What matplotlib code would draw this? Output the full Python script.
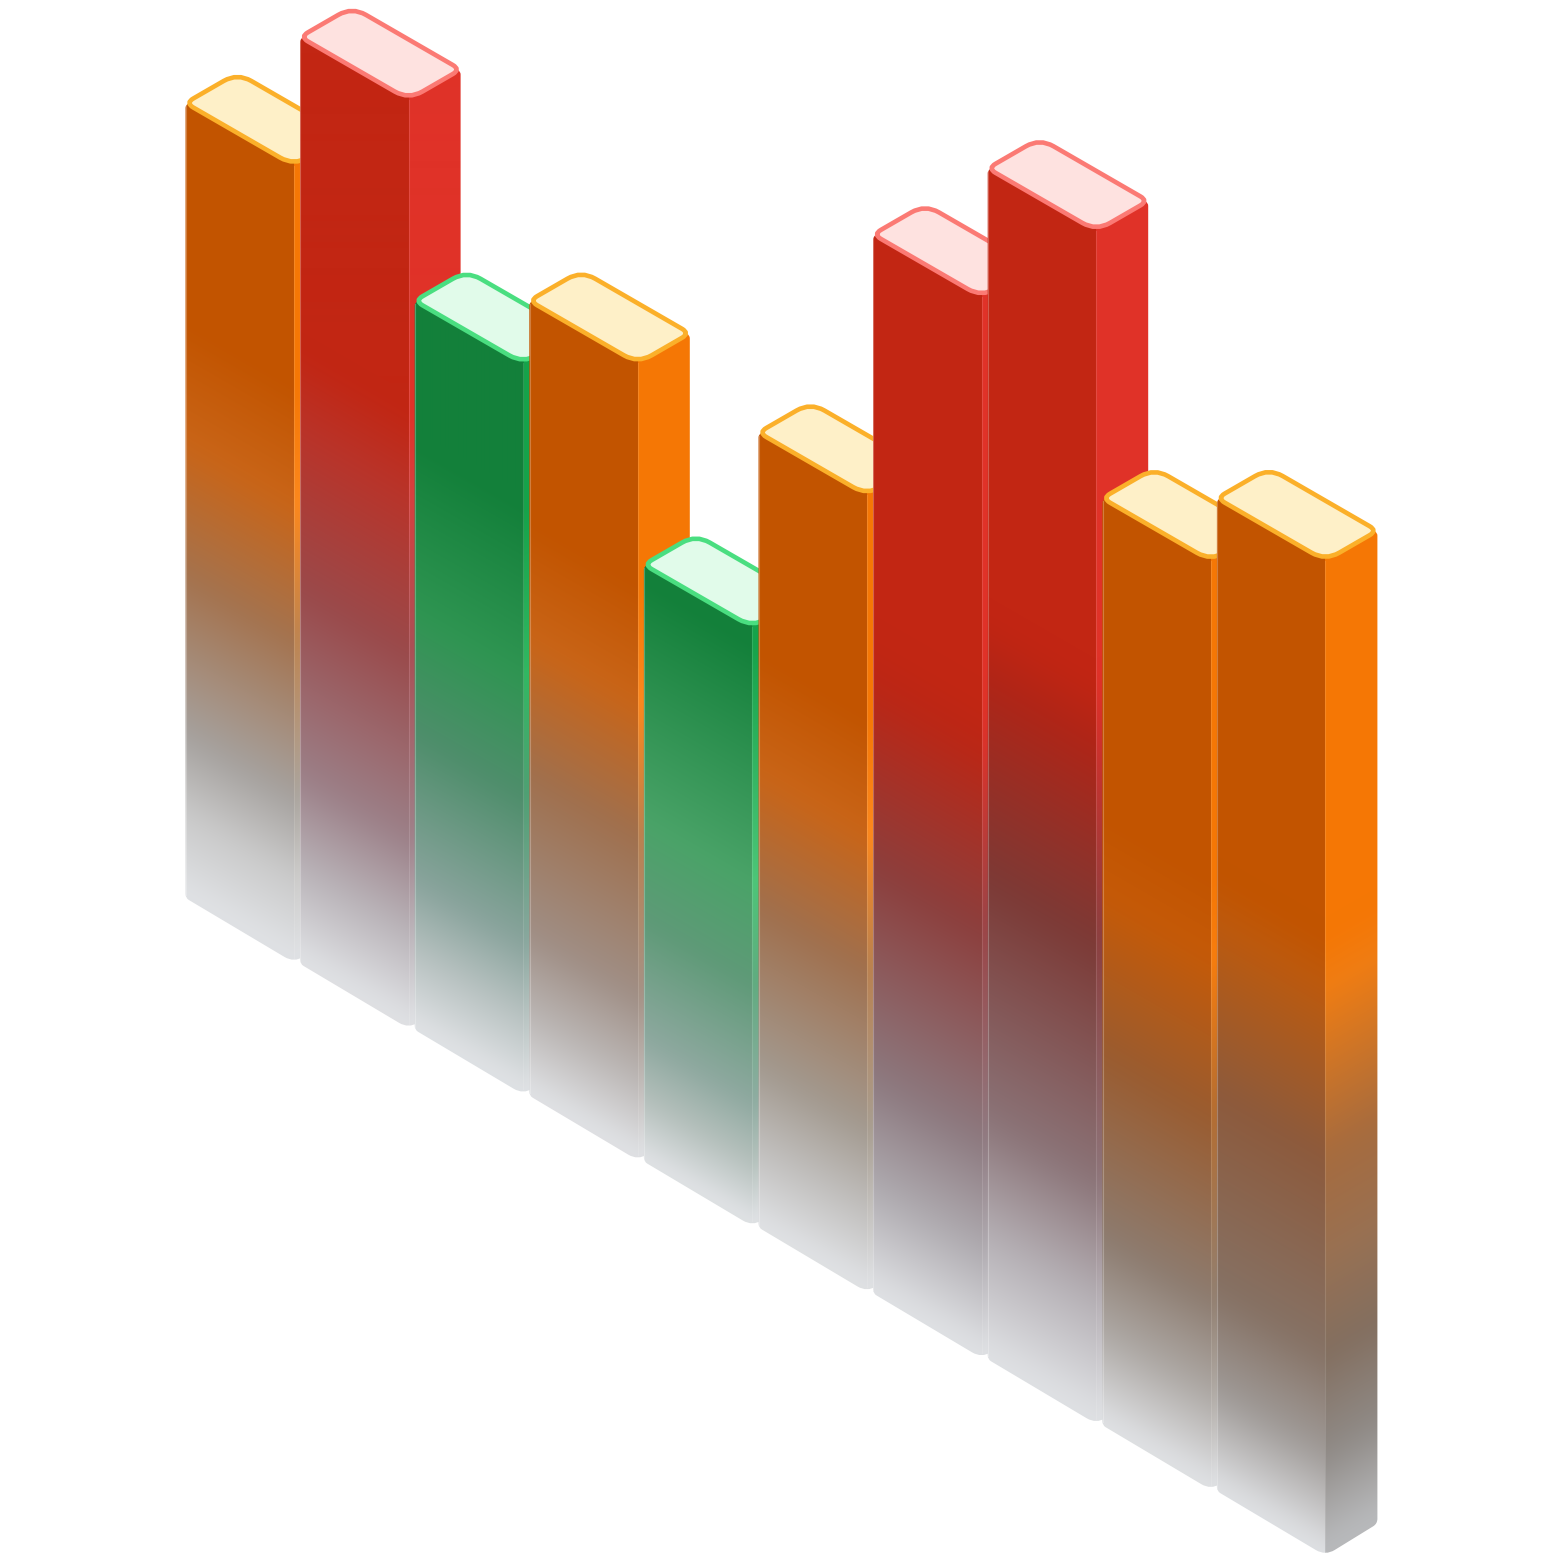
import numpy as np
import matplotlib
matplotlib.use("Agg")
import matplotlib.pyplot as plt
from matplotlib.path import Path
from matplotlib.patches import PathPatch
from matplotlib.colors import to_rgb

# bar heights (in grid units) and colour family
values = [12, 14, 11, 12, 9, 12, 16, 18, 14, 15]
kinds = ["orange", "red", "green", "orange", "green", "orange", "red", "red", "orange", "orange"]

# colours of the front face on the way down, one per bar
kink_colors = ["#c96518", "#b9342a", "#2f9552", "#c96518", "#4aa368", "#c96518", "#bb2716", "#b02517", "#c55a08", "#bd5a0e"]
mid_colors = ["#a4734f", "#9a4a4b", "#4f8e6c", "#a0704e", "#5f9a78", "#a0704e", "#8c3f3d", "#7c3a36", "#9a5c30", "#8d5a3c"]
low_colors = ["#a6a29f", "#9c8088", "#8aa49d", "#a08f86", "#8fa9a0", "#a39a90", "#8d7a80", "#8b7478", "#8d7c70", "#867265"]
near_colors = ["#cacaca", "#b9b3b8", "#b8c2c1", "#bab5b3", "#b5c0bc", "#c0bebc", "#aeaaaf", "#b5b0b5", "#ada8a4", "#9f9a97"]
hold_t = [0.72, 0.66, 0.8, 0.72, 0.97, 0.72, 0.62, 0.62, 0.66, 0.62]

front_base = {"orange": "#c25400", "red": "#c22613", "green": "#13803a"}
side_base = {"orange": "#f57705", "red": "#e03228", "green": "#16a34a"}
top_fill = {"orange": "#fef0c8", "red": "#fee2e0", "green": "#e1fbea"}
top_edge = {"orange": "#fbb02a", "red": "#fb7a74", "green": "#4ade80"}
end_color = "#e0e2e5"

# isometric layout, in pixels
SIZE = 1564
UNIT = 66.0
STEP = 114.6
X0 = 185.5
BASE0 = 895.0
BASE_STEP = 65.9
W = 108.5
D = 52.0
S = 0.577


def rounded(points, cuts):
    # closed path with the corners cut off and replaced by curves
    n = len(points)
    verts, codes = [], []
    for i in range(n):
        p = np.array(points[i], float)
        a = np.array(points[i - 1], float)
        b = np.array(points[(i + 1) % n], float)
        c = cuts[i]
        start = p + (a - p) / np.linalg.norm(a - p) * c
        end = p + (b - p) / np.linalg.norm(b - p) * c
        verts.append(start)
        codes.append(Path.MOVETO if i == 0 else Path.LINETO)
        verts.extend([p, end])
        codes.extend([Path.CURVE3, Path.CURVE3])
    verts.append(verts[0])
    codes.append(Path.CLOSEPOLY)
    return Path(verts, codes)


def ramp(stops_t, colors, t):
    # colour ramp with the stops softened a little
    grid = np.linspace(0, 1, 1001)
    rgb = np.array([to_rgb(c) for c in colors])
    win = np.ones(41) / 41
    out = []
    for k in range(3):
        lut = np.interp(grid, stops_t, rgb[:, k])
        smooth = np.convolve(np.pad(lut, 20, mode="edge"), win, mode="valid")
        out.append(np.interp(t, grid, smooth))
    return np.stack(out, axis=-1)


fig = plt.figure(figsize=(SIZE / 100, SIZE / 100), dpi=100)
ax = fig.add_axes([0, 0, 1, 1])

for i, (value, kind) in enumerate(zip(values, kinds)):
    x0 = X0 + STEP * i
    y_bot = BASE0 + BASE_STEP * i
    height = value * UNIT
    y_top = y_bot - height

    x1 = x0 + W
    x2 = x1 + D
    ys = np.arange(y_top - 40, y_bot + W * S + 8, 1.0)
    xs = np.arange(x0 - 1, x2 + 2, 1.0)
    xx, yy = np.meshgrid(xs, ys)

    base_y = np.where(xx <= x1, y_bot + (xx - x0) * S, y_bot + W * S - (xx - x1) * S)
    t = np.clip((base_y - yy) / height, 0, 1)

    stop_t = [0.0, 0.1, 0.2, 0.4, 0.57, hold_t[i], 1.0]
    front_cols = [end_color, near_colors[i], low_colors[i], mid_colors[i], kink_colors[i],
                  front_base[kind], front_base[kind]]
    front = ramp(stop_t, front_cols, t)

    # side face is the front colour plus a brightening that dies out downwards
    extra = np.array(to_rgb(side_base[kind])) - np.array(to_rgb(front_base[kind]))
    fade = np.interp(t, [0.0, 0.2, 0.4, 0.57, 1.0], [0.0, 0.1, 0.5, 1.0, 1.0])[..., None]
    side = np.clip(front + extra * fade, 0, 1)
    if i == len(values) - 1:
        # only the last bar shows its whole side, darker near the floor
        shade = np.interp(t, [0.0, 0.3], [0.83, 1.0])[..., None]
        side = side * shade
    img = np.where((xx <= x1)[..., None], front, side)

    # top of the outline stays under the lid
    outline = rounded(
        [(x0, y_top + 2), (x0 + D, y_top - D * S + 8), (x2, y_top + (W - D) * S + 2),
         (x2, y_bot + (W - D) * S + 3), (x1, y_bot + W * S + 5), (x0, y_bot + 3)],
        [3, 3, 3, 5, 11, 4],
    )
    clip = PathPatch(outline, transform=ax.transData, fc="none", ec="none")
    ax.add_patch(clip)
    im = ax.imshow(img, extent=(xs[0] - 0.5, xs[-1] + 0.5, ys[-1] + 0.5, ys[0] - 0.5),
                   origin="upper", interpolation="bilinear", aspect="auto", zorder=i * 3 + 1)
    im.set_clip_path(clip)

    # thin lighter edges on the face joints
    ax.plot([x1, x1], [y_top + W * S, y_bot + W * S], color="white", alpha=0.12, lw=0.8, zorder=i * 3 + 2)
    ax.plot([x0 + 0.3, x0 + 0.3], [y_top + 3, y_bot], color="white", alpha=0.25, lw=0.8, zorder=i * 3 + 2)

    # lid
    cx, cy = x0 + (W + D) / 2, y_top + (W - D) * S / 2
    lid = [(x0, y_top), (x0 + D, y_top - D * S), (x2, y_top + (W - D) * S), (x1, y_top + W * S)]
    ax.add_patch(PathPatch(rounded(lid, [9, 16, 9, 16]), fc=top_fill[kind], ec=top_edge[kind],
                           lw=3.3, joinstyle="round", zorder=i * 3 + 3))

ax.set_xlim(0, SIZE)
ax.set_ylim(SIZE, 0)
ax.axis("off")
fig.savefig("out.png", dpi=100, facecolor="white")
